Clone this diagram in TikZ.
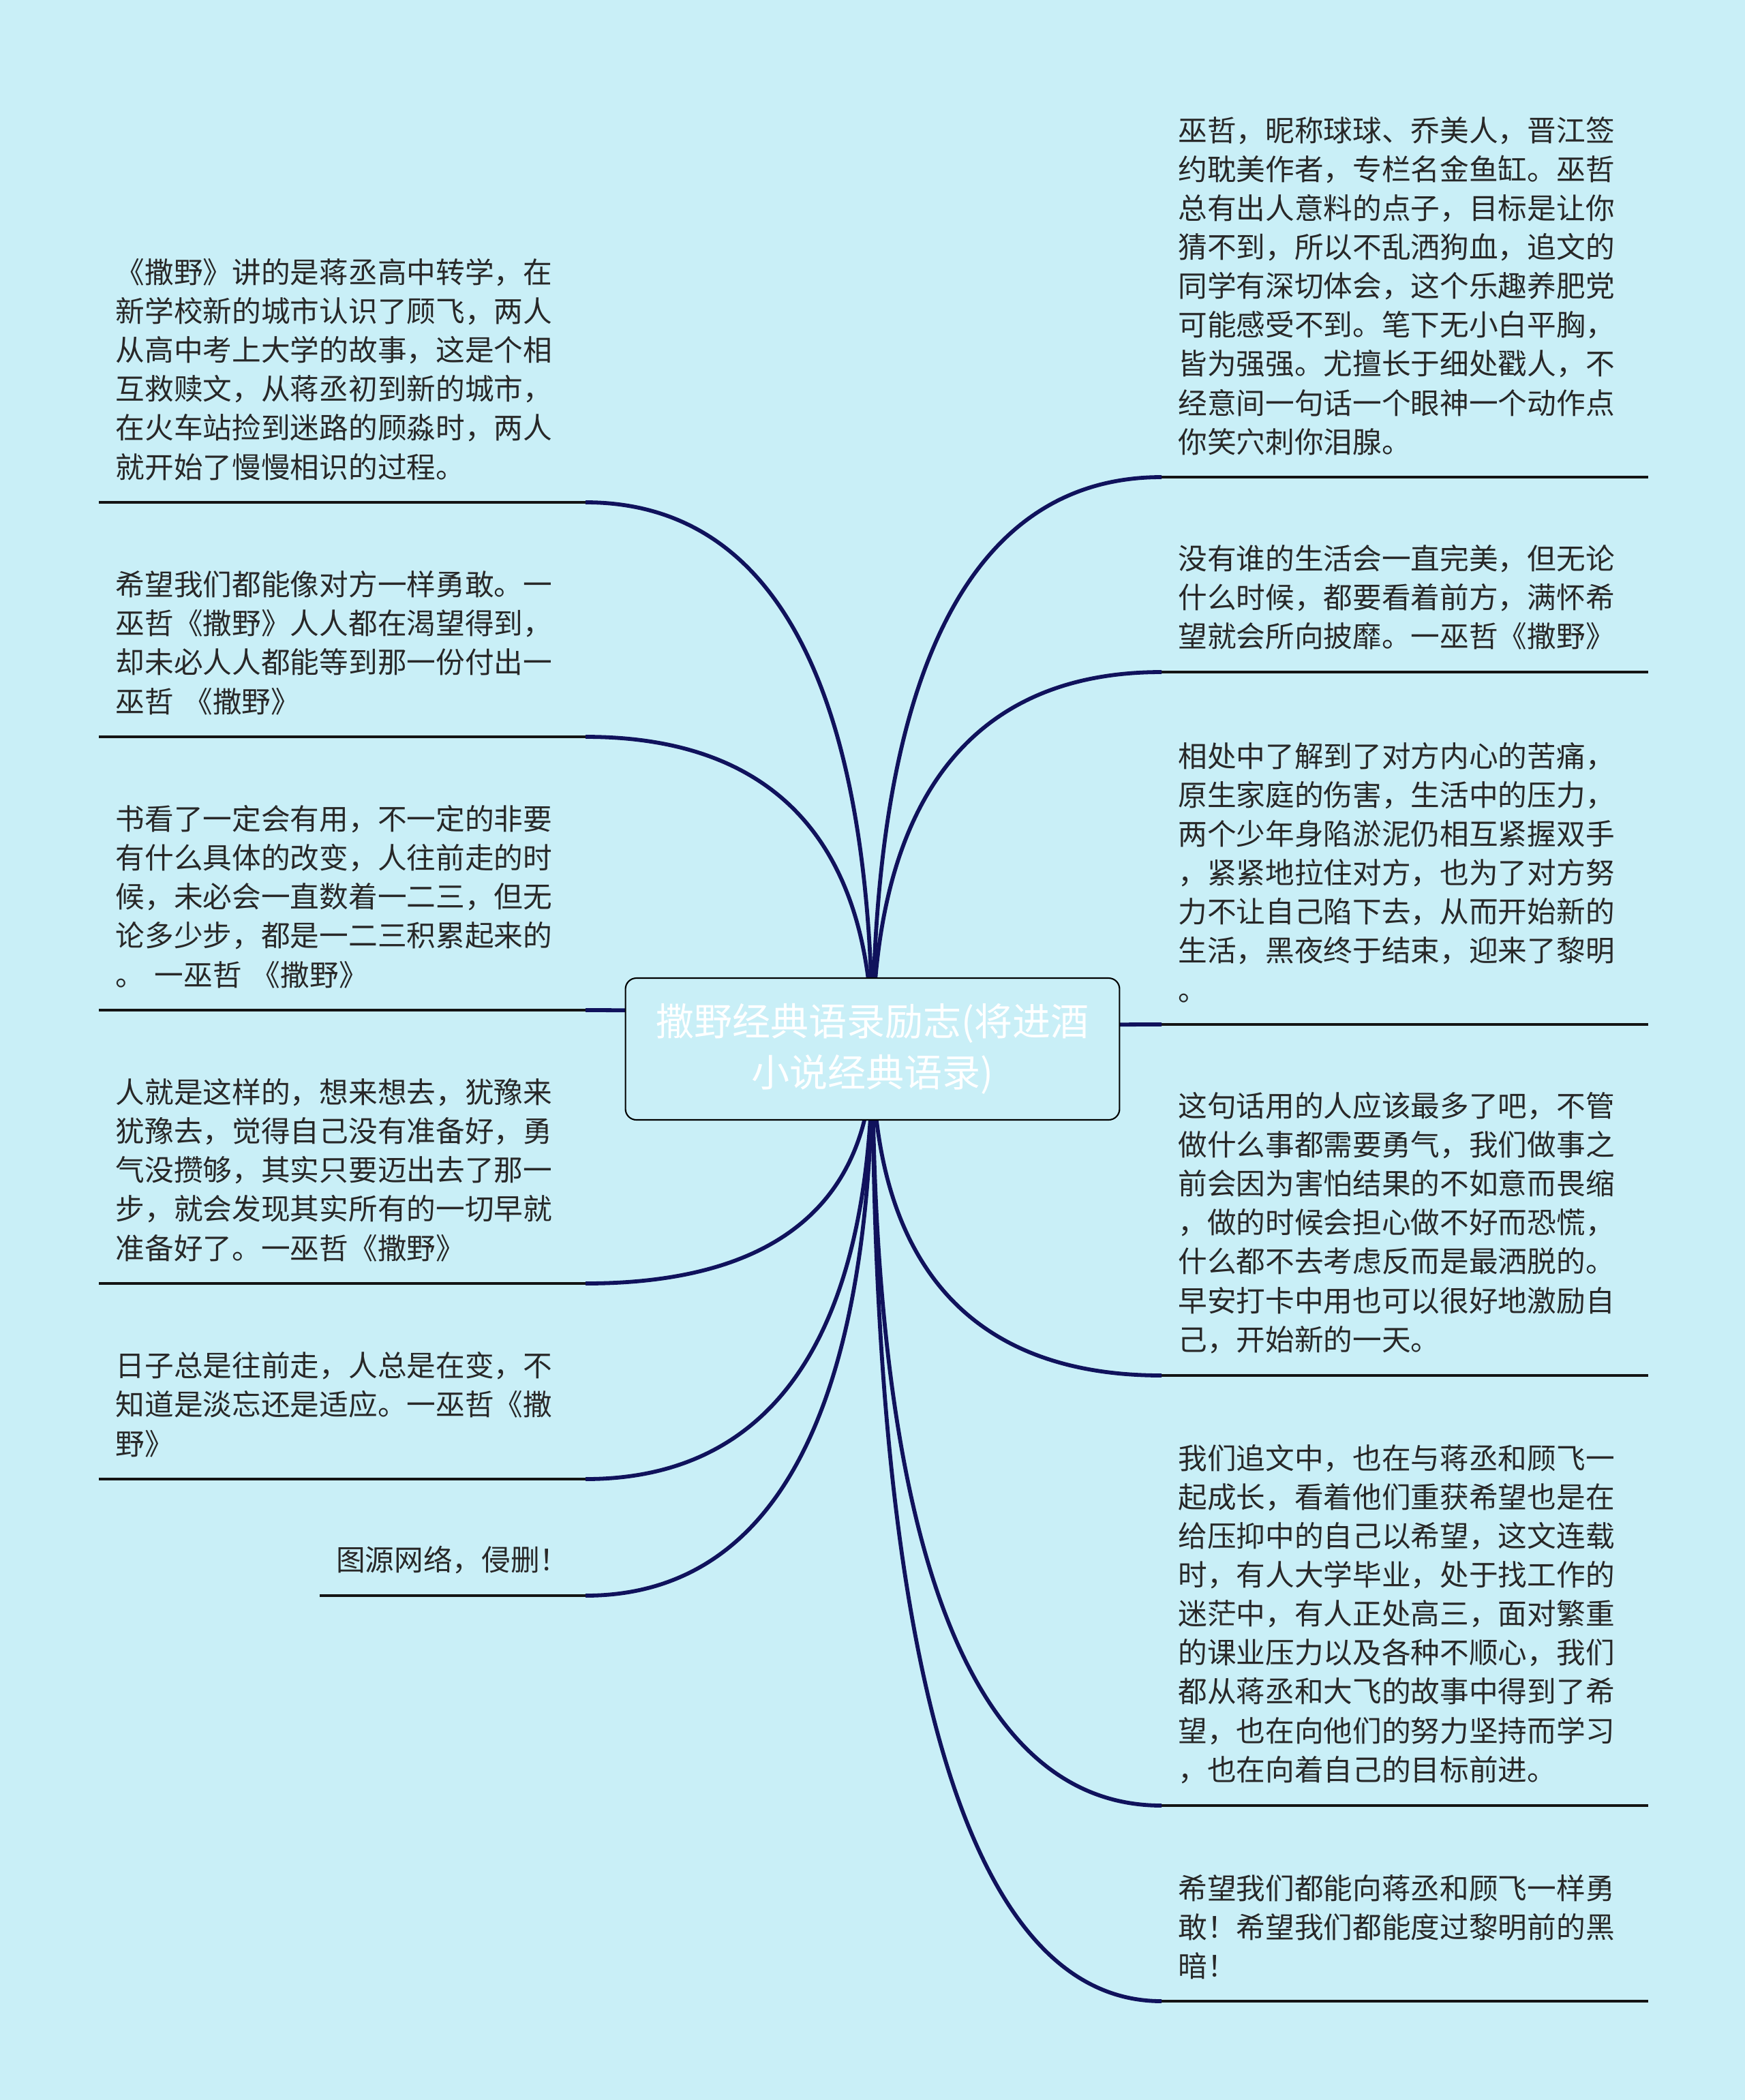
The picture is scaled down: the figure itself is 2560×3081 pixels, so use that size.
\documentclass[tikz,border=0pt]{standalone}
\usepackage{fontspec}
\newfontfamily\cjk{Noto Sans CJK SC}
\usepackage{tikz}
\usetikzlibrary{calc}
\definecolor{MapBack}{RGB}{201,239,247}
\definecolor{BranchNavy}{RGB}{16,18,92}
\definecolor{LeafInk}{RGB}{40,40,40}
\tikzset{
  branch/.style={line width=3.3pt,draw=BranchNavy},
  leafrule/.style={line width=2.8pt,draw=black!92},
  leaf/.style={inner xsep=0.48cm,inner ysep=0.64cm,text width=13.3cm,align=left,
    font=\cjk\fontsize{24.3pt}{32.5pt}\selectfont,text=LeafInk},
  shortleaf/.style={inner xsep=0.48cm,inner ysep=0.64cm,
    font=\cjk\fontsize{24.3pt}{32.5pt}\selectfont,text=LeafInk},
  hubbox/.style={draw=black,line width=1.2pt,fill=MapBack,rounded corners=0.32cm,
    minimum width=14.5cm,minimum height=4.16cm,align=center,text=white,
    font=\cjk\fontsize{31.9pt}{42.5pt}\selectfont}
}
\begin{document}
\begin{tikzpicture}[x=0.02cm,y=-0.02cm]
  \fill[MapBack] (0,0) rectangle (2560,3081);
  \useasboundingbox (0,0) rectangle (2560,3081);
  \coordinate (hub) at (1280,1539);

  \node[leaf,anchor=south east] (l1) at (859,737) {《撒野》讲的是蒋丞高中转学，在\\新学校新的城市认识了顾飞，两人\\从高中考上大学的故事，这是个相\\互救赎文，从蒋丞初到新的城市，\\在火车站捡到迷路的顾淼时，两人\\就开始了慢慢相识的过程。};
  \node[leaf,anchor=south east] (l2) at (859,1081) {希望我们都能像对方一样勇敢。一\\巫哲《撒野》人人都在渴望得到，\\却未必人人都能等到那一份付出一\\巫哲 《撒野》};
  \node[leaf,anchor=south east] (l3) at (859,1482) {书看了一定会有用，不一定的非要\\有什么具体的改变，人往前走的时\\候，未必会一直数着一二三，但无\\论多少步，都是一二三积累起来的\\。 一巫哲 《撒野》};
  \node[leaf,anchor=south east] (l4) at (859,1883) {人就是这样的，想来想去，犹豫来\\犹豫去，觉得自己没有准备好，勇\\气没攒够，其实只要迈出去了那一\\步，就会发现其实所有的一切早就\\准备好了。一巫哲《撒野》};
  \node[leaf,anchor=south east] (l5) at (859,2170) {日子总是往前走，人总是在变，不\\知道是淡忘还是适应。一巫哲《撒\\野》};
  \node[shortleaf,anchor=south east] (l6) at (859,2341) {图源网络，侵删！};

  \node[leaf,anchor=south west] (r1) at (1704,700) {巫哲，昵称球球、乔美人，晋江签\\约耽美作者，专栏名金鱼缸。巫哲\\总有出人意料的点子，目标是让你\\猜不到，所以不乱洒狗血，追文的\\同学有深切体会，这个乐趣养肥党\\可能感受不到。笔下无小白平胸，\\皆为强强。尤擅长于细处戳人，不\\经意间一句话一个眼神一个动作点\\你笑穴刺你泪腺。};
  \node[leaf,anchor=south west] (r2) at (1704,986) {没有谁的生活会一直完美，但无论\\什么时候，都要看着前方，满怀希\\望就会所向披靡。一巫哲《撒野》};
  \node[leaf,anchor=south west] (r3) at (1704,1503) {相处中了解到了对方内心的苦痛，\\原生家庭的伤害，生活中的压力，\\两个少年身陷淤泥仍相互紧握双手\\，紧紧地拉住对方，也为了对方努\\力不让自己陷下去，从而开始新的\\生活，黑夜终于结束，迎来了黎明\\。};
  \node[leaf,anchor=south west] (r4) at (1704,2018) {这句话用的人应该最多了吧，不管\\做什么事都需要勇气，我们做事之\\前会因为害怕结果的不如意而畏缩\\，做的时候会担心做不好而恐慌，\\什么都不去考虑反而是最洒脱的。\\早安打卡中用也可以很好地激励自\\己，开始新的一天。};
  \node[leaf,anchor=south west] (r5) at (1704,2649) {我们追文中，也在与蒋丞和顾飞一\\起成长，看着他们重获希望也是在\\给压抑中的自己以希望，这文连载\\时，有人大学毕业，处于找工作的\\迷茫中，有人正处高三，面对繁重\\的课业压力以及各种不顺心，我们\\都从蒋丞和大飞的故事中得到了希\\望，也在向他们的努力坚持而学习\\，也在向着自己的目标前进。};
  \node[leaf,anchor=south west] (r6) at (1704,2936) {希望我们都能向蒋丞和顾飞一样勇\\敢！希望我们都能度过黎明前的黑\\暗！};

  \foreach \n in {l1,l2,l3,l4,l5,l6,r1,r2,r3,r4,r5,r6}
    \draw[leafrule] (\n.south west) -- (\n.south east);
  \foreach \n in {l1,l2,l3,l4,l5,l6}
    \draw[branch] (hub) .. controls ($(hub)!0.66!(hub |- \n.south east)$)
      and ($(\n.south east)!0.66!(hub |- \n.south east)$) .. (\n.south east);
  \foreach \n in {r1,r2,r3,r4,r5,r6}
    \draw[branch] (hub) .. controls ($(hub)!0.66!(hub |- \n.south west)$)
      and ($(\n.south west)!0.66!(hub |- \n.south west)$) .. (\n.south west);

  \node[hubbox] (title) at (hub) {撒野经典语录励志(将进酒\\小说经典语录)};
\end{tikzpicture}
\end{document}
